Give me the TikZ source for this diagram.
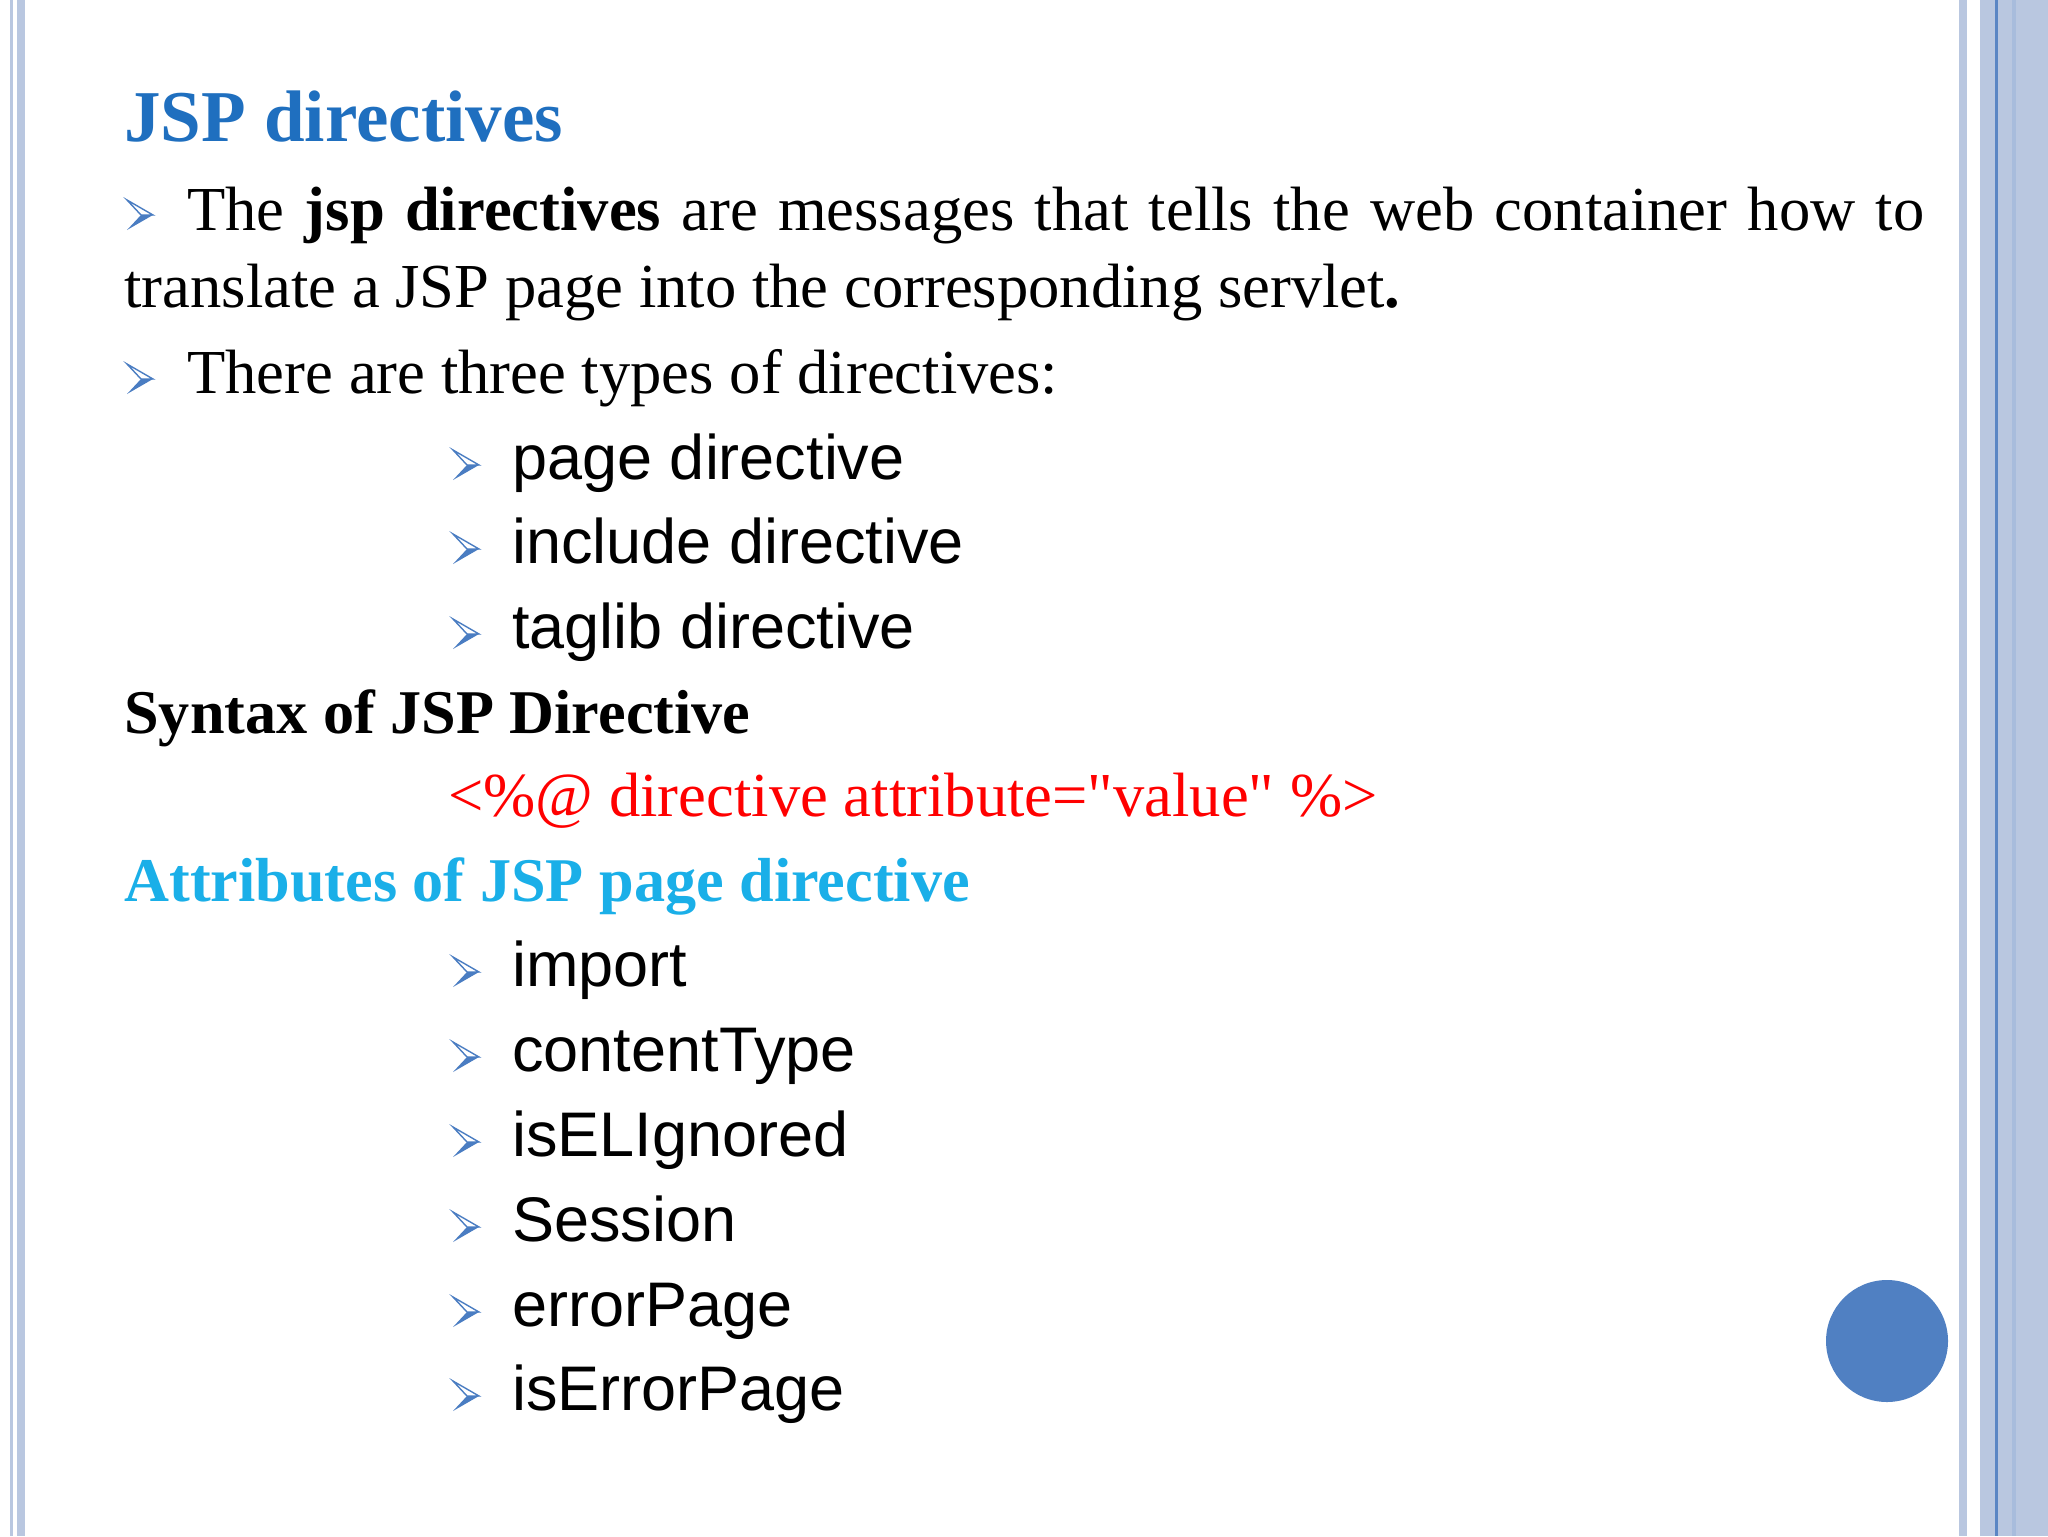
\documentclass[tikz,border=0pt]{standalone}
\usepackage{fontspec}
\setmainfont{Liberation Serif}
\setsansfont{Liberation Sans}
\newfontfamily\plainserif[Renderer=OpenType]{Liberation Serif}
\definecolor{bord}{HTML}{B9C7E0}
\definecolor{bordd}{HTML}{5B86C4}
\definecolor{bulc}{HTML}{4A7DC2}
\definecolor{titc}{HTML}{1F6FBF}
\definecolor{cyanc}{HTML}{1AAFE8}
\definecolor{circc}{HTML}{5080C2}
\tikzset{
  body/.style={anchor=base west,inner sep=0pt,font=\fontsize{31.3}{38}\selectfont},
  bodyb/.style={anchor=base west,inner sep=0pt,font=\bfseries\fontsize{31.1}{38}\selectfont},
  item/.style={anchor=base west,inner sep=0pt,font=\sffamily\fontsize{31.5}{38}\selectfont},
  bul/.pic={\fill[bulc] (1,0)--(13,0)--(-13,15)--cycle;
            \draw[bulc,line width=0.7pt,line join=miter] (-13,-15)--(13,0)--(1,0)--cycle;}
}
\begin{document}
\begin{tikzpicture}[x=0.5pt,y=-0.5pt]
\useasboundingbox (0,0) rectangle (2048,1536);
\fill[white] (0,0) rectangle (2048,1536);
% borders
\fill[bord] (10,0) rectangle (13,1536);
\fill[bord] (17,0) rectangle (25,1536);
\fill[bord] (1959,0) rectangle (1967,1536);
\fill[bord] (1980,0) rectangle (2048,1536);
\fill[bordd] (1995,0) rectangle (1998,1536);
\fill[bord!85!bulc] (2012,0) rectangle (2016,1536);
\node[circle,fill=circc,minimum size=122pt*0.5,inner sep=0pt] (circ) at (1887,1341) {};
% title
\node[anchor=base west,inner sep=0pt,font=\bfseries\fontsize{36.5}{42}\selectfont,text=titc] (title) at (124,141) {JSP directives};
% paragraph
\pic at (140,215) {bul};
\node[body,anchor=north west,text width=900pt,align=justify,font=\fontsize{31.3}{38.5}\selectfont] (p1) at (124,187)
 {\hspace*{31.5pt}The \textbf{jsp directives} are messages that tells the web container how to\linebreak translate a JSP page into the corresponding servlet\textbf{.}};
\pic at (140,379) {bul};
\node[body] (p2) at (187,393) {There are three types of directives:};
% types
\pic at (466,465) {bul}; \node[item] (t1) at (512,479) {page directive};
\pic at (466,549) {bul}; \node[item] (t2) at (512,563) {include directive};
\pic at (466,634) {bul}; \node[item] (t3) at (512,648) {taglib directive};
\node[bodyb] (syn) at (124,733) {Syntax of JSP Directive};
\node[body,text=red] (code) at (448,816) {\plainserif <\%@ directive attribute="value" \%>};
\node[bodyb,text=cyanc] (attr) at (124,901) {Attributes of JSP page directive};
\pic at (466,972) {bul};  \node[item] (a1) at (512,986) {import};
\pic at (466,1057) {bul}; \node[item] (a2) at (512,1071) {contentType};
\pic at (466,1142) {bul}; \node[item] (a3) at (512,1156) {isELIgnored};
\pic at (466,1227) {bul}; \node[item] (a4) at (512,1241) {Session};
\pic at (466,1312) {bul}; \node[item] (a5) at (512,1326) {errorPage};
\pic at (466,1396) {bul}; \node[item] (a6) at (512,1410) {isErrorPage};
\end{tikzpicture}
\end{document}
